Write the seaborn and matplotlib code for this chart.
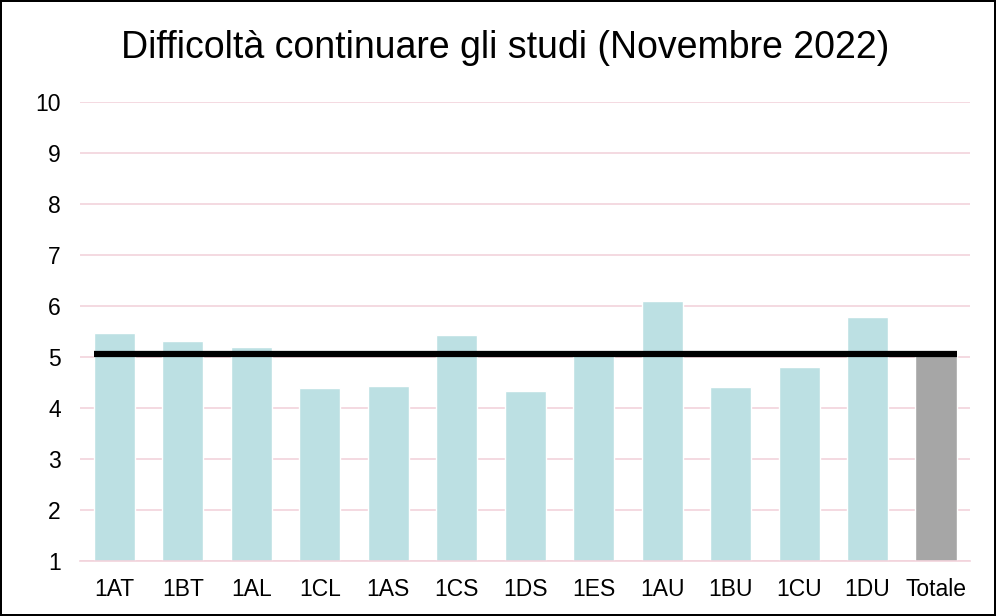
"""
Difficoltà continuare gli studi (Novembre 2022) - grafico a barre per classe.
"""

import matplotlib
matplotlib.use('Agg')
import matplotlib.pyplot as plt
import seaborn as sns
import pandas as pd

# Dati
classi = ['1AT', '1BT', '1AL', '1CL', '1AS', '1CS', '1DS',
          '1ES', '1AU', '1BU', '1CU', '1DU', 'Totale']
valori = [5.47, 5.32, 5.20, 4.40, 4.43, 5.43, 4.33,
          5.05, 6.10, 4.42, 4.80, 5.79, 5.07]
media_totale = 5.07
y_ticks = list(range(1, 11))

COL_BAR = '#bce0e3'
COL_TOT = '#a6a6a6'
COL_GRID = '#f2d3dc'

sns.set_style('white')
plt.rcParams['font.family'] = ['Liberation Sans', 'DejaVu Sans']

df = pd.DataFrame({'classe': classi, 'valore': valori})
palette = {c: (COL_TOT if c == 'Totale' else COL_BAR) for c in classi}

fig = plt.figure(figsize=(9.96, 6.16), dpi=100)
fig.patch.set_edgecolor('black')
fig.patch.set_linewidth(1.5)
ax = fig.add_axes([0.0806, 0.089, 0.8935, 0.745])

sns.barplot(data=df, x='classe', y='valore', hue='classe', palette=palette,
            legend=False, width=0.6, saturation=1, ax=ax, zorder=2)

# Linea della media totale
n = len(classi)
ax.hlines(media_totale, -0.3, n - 1 + 0.3, colors='black', linewidth=4.5,
          zorder=3)

ax.set_ylim(1, 10)
ax.set_xlim(-0.5, n - 0.5)
ax.set_yticks(y_ticks)
ax.yaxis.grid(True, color=COL_GRID, linewidth=1.2, zorder=0)
ax.set_axisbelow(True)
for s in ['top', 'right', 'left']:
    ax.spines[s].set_visible(False)
ax.spines['bottom'].set_color(COL_GRID)
ax.spines['bottom'].set_linewidth(1.2)
ax.tick_params(axis='both', length=0, labelsize=16.5, colors='black')
ax.tick_params(axis='y', pad=14)
ax.tick_params(axis='x', pad=12)
ax.set_xlabel('')
ax.set_ylabel('')

fig.text(0.507, 0.922, 'Difficoltà continuare gli studi (Novembre 2022)',
         fontsize=27, color='black', ha='center', va='center')

plt.savefig('out.png', dpi=100)
